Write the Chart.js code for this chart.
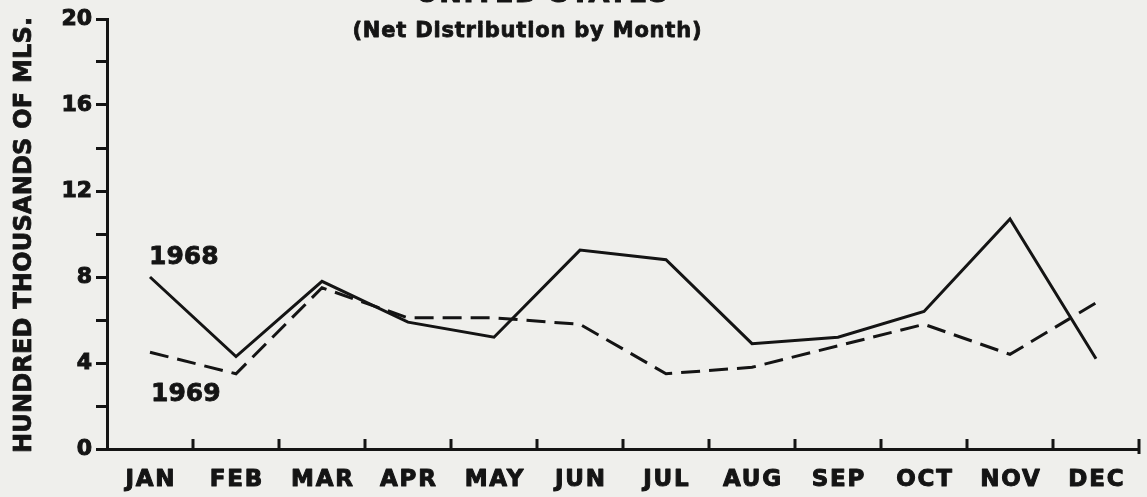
<!DOCTYPE html>
<html>
<head>
<meta charset="utf-8">
<script src="https://cdn.jsdelivr.net/npm/chart.js@4.4.1/dist/chart.umd.min.js"></script>
<style>
  html, body { margin: 0; padding: 0; background: #efefec; }
  #wrap { width: 1147px; height: 497px; position: relative; }
</style>
</head>
<body>
<div id="wrap"><canvas id="c" width="1147" height="497"></canvas></div>
<script>
const months = ['JAN','FEB','MAR','APR','MAY','JUN','JUL','AUG','SEP','OCT','NOV','DEC'];
const values1968 = [8.0, 4.3, 7.8, 5.9, 5.2, 9.25, 8.8, 4.9, 5.2, 6.4, 10.7, 4.2];
const values1969 = [4.5, 3.5, 7.5, 6.1, 6.1, 5.8, 3.5, 3.8, 4.8, 5.8, 4.4, 6.8];
const yTicks = [0, 4, 8, 12, 16, 20];
const titleText = 'UNITED STATES';
const subtitleText = '(Net Distribution by Month)';
const yTitleText = 'HUNDRED THOUSANDS OF MLS.';
const seriesLabels = ['1968', '1969'];

const INK = '#141414';
const FONT = '"DejaVu Sans", "Liberation Sans", sans-serif';

function heavy(ctx, text, x, y, spacing, stroke) {
  ctx.letterSpacing = spacing + 'px';
  ctx.lineWidth = stroke;
  ctx.lineJoin = 'round';
  ctx.strokeText(text, x + spacing / 2, y);
  ctx.fillText(text, x + spacing / 2, y);
  ctx.letterSpacing = '0px';
}

const decor = {
  id: 'decor',
  beforeDraw(chart) {
    const ctx = chart.ctx;
    ctx.save();
    ctx.fillStyle = '#efefec';
    ctx.fillRect(0, 0, chart.width, chart.height);
    ctx.restore();
  },
  afterDraw(chart) {
    const ctx = chart.ctx;
    const xs = chart.scales.x, ys = chart.scales.y;
    const area = chart.chartArea;
    ctx.save();
    ctx.strokeStyle = INK;
    ctx.fillStyle = INK;
    ctx.lineWidth = 3;
    // x-axis boundary ticks pointing up
    for (let i = 1; i <= months.length; i++) {
      let x;
      if (i === months.length) x = area.right;
      else x = (xs.getPixelForValue(i - 1) + xs.getPixelForValue(i)) / 2;
      ctx.beginPath();
      ctx.moveTo(x, area.bottom + (i === months.length ? 5 : 0));
      ctx.lineTo(x, area.bottom - 10);
      ctx.stroke();
    }
    // x labels
    ctx.textAlign = 'center';
    ctx.textBaseline = 'alphabetic';
    ctx.font = 'bold 23px ' + FONT;
    months.forEach((m, i) => {
      heavy(ctx, m, xs.getPixelForValue(i), area.bottom + 37, 1.8, 1);
    });
    // titles (main title is cut off at the top edge, as in the source)
    ctx.font = 'bold 27px ' + FONT;
    heavy(ctx, titleText, 542, 2, 1.5, 1);
    ctx.font = 'bold 21px ' + FONT;
    heavy(ctx, subtitleText, 527, 37, 0.8, 0.8);
    // y title
    ctx.save();
    ctx.translate(31, 235);
    ctx.rotate(-Math.PI / 2);
    ctx.font = 'bold 24px ' + FONT;
    heavy(ctx, yTitleText, 0, 0, 0.2, 0.8);
    ctx.restore();
    // series labels
    ctx.textAlign = 'left';
    ctx.font = 'bold 25px ' + FONT;
    const x0 = xs.getPixelForValue(0);
    heavy(ctx, seriesLabels[0], x0 - 1, ys.getPixelForValue(8.6), 0, 0.8);
    heavy(ctx, seriesLabels[1], x0 + 1, ys.getPixelForValue(2.25), 0, 0.8);
    ctx.restore();
  }
};

new Chart(document.getElementById('c'), {
  type: 'line',
  data: {
    labels: months,
    datasets: [
      { label: seriesLabels[0], data: values1968, borderColor: INK, borderWidth: 3, pointRadius: 0, tension: 0, fill: false },
      { label: seriesLabels[1], data: values1969, borderColor: INK, borderWidth: 3, borderDash: [19, 9], pointRadius: 0, tension: 0, fill: false }
    ]
  },
  options: {
    responsive: false,
    animation: false,
    devicePixelRatio: 1,
    layout: { padding: { left: 0, top: 19, right: 8, bottom: 0 } },
    plugins: { legend: { display: false }, tooltip: { enabled: false }, title: { display: false } },
    scales: {
      x: {
        type: 'category',
        offset: true,
        grid: { display: false, drawTicks: false },
        border: { display: true, color: INK, width: 3 },
        ticks: { color: 'rgba(0,0,0,0)', font: { family: FONT, weight: 'bold', size: 21 }, padding: 17, maxRotation: 0, autoSkip: false },
        afterFit: s => { s.height = 48; }
      },
      y: {
        min: yTicks[0],
        max: yTicks[yTicks.length - 1],
        ticks: {
          stepSize: 2,
          color: INK,
          textStrokeColor: INK,
          textStrokeWidth: 1,
          font: { family: FONT, weight: 'bold', size: 22 },
          padding: 4,
          callback: v => yTicks.includes(v) ? String(v) : ''
        },
        grid: { drawOnChartArea: false, drawTicks: true, tickLength: 11, color: INK, lineWidth: 3 },
        border: { display: true, color: INK, width: 3 },
        afterFit: s => { s.width = 107; }
      }
    }
  },
  plugins: [decor]
});
</script>
</body>
</html>
